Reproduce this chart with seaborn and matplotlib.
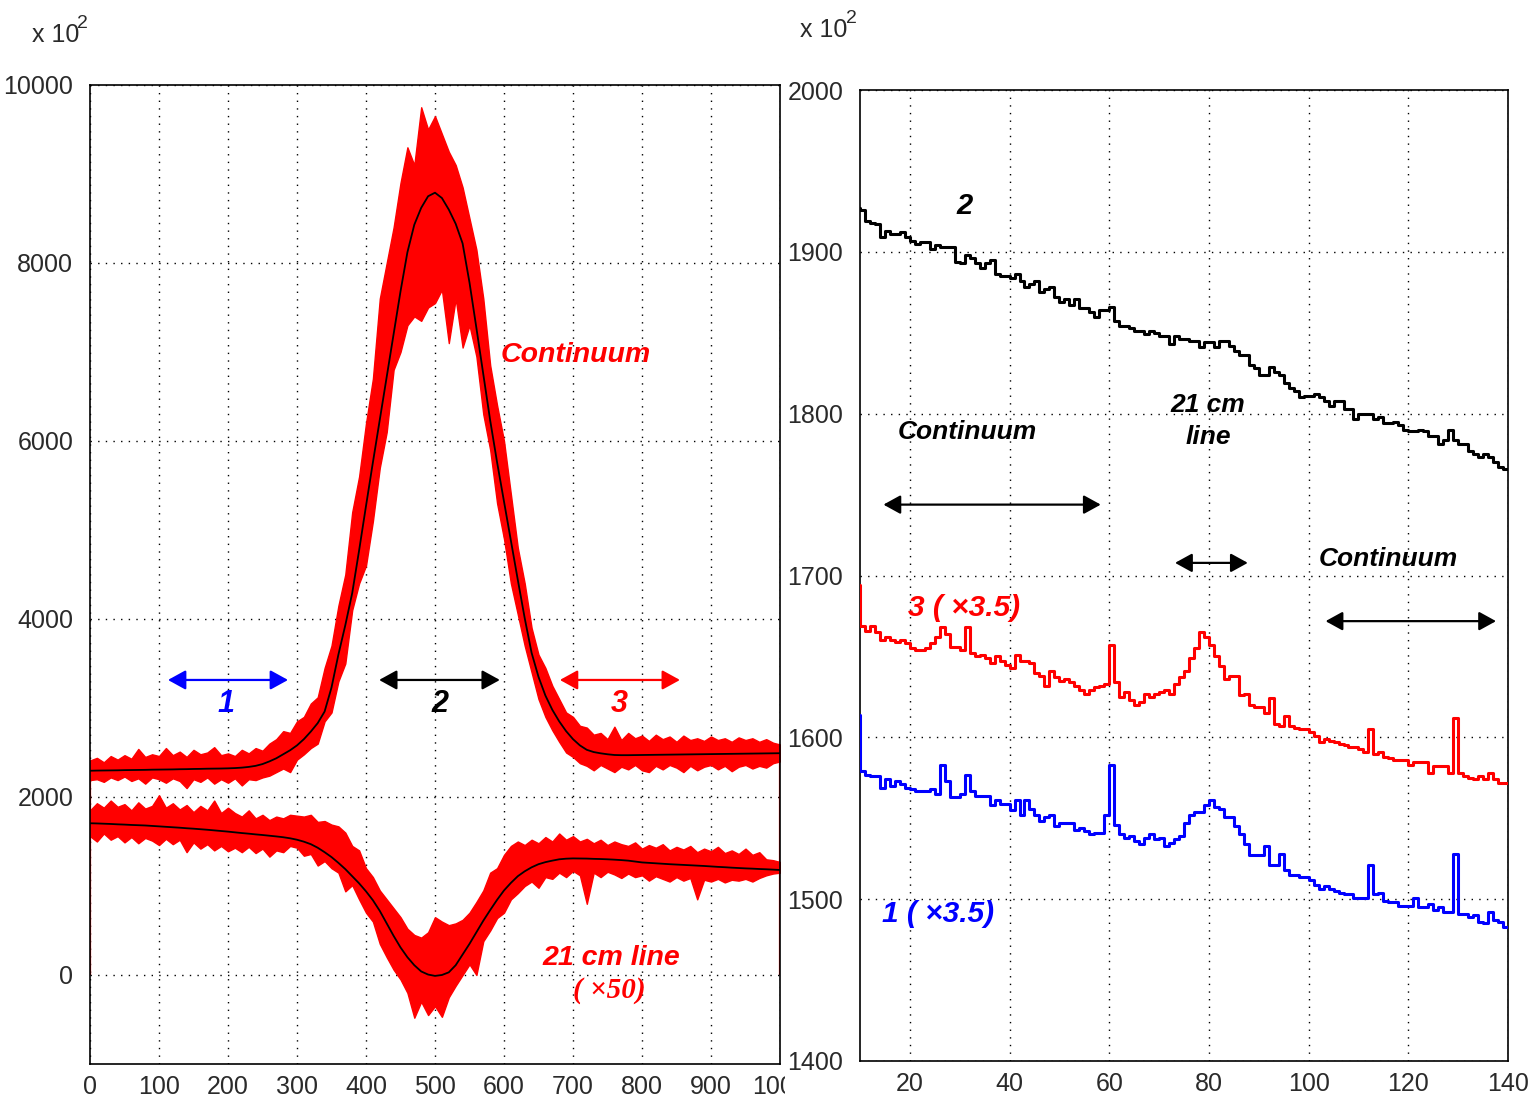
import numpy as np
import matplotlib
matplotlib.use("Agg")
import matplotlib.pyplot as plt
import seaborn as sns
from matplotlib.ticker import MultipleLocator
from matplotlib.transforms import Bbox, TransformedBbox

sns.set_theme(style="white")
plt.rcParams["font.family"] = ["Liberation Sans Narrow", "Liberation Sans", "DejaVu Sans"]

# ---------------- left panel : spectrum (channels) ----------------
channel = list(range(0, 1001, 10))

cont_hi = [2410, 2440, 2390, 2460, 2420, 2470, 2430, 2540, 2450, 2480,
           2460, 2550, 2470, 2510, 2450, 2530, 2480, 2500, 2560, 2470,
           2490, 2460, 2530, 2490, 2550, 2520, 2600, 2650, 2740, 2720,
           2850, 2900, 3050, 3120, 3450, 3700, 4150, 4500, 5200, 5600,
           6200, 6700, 7600, 8000, 8400, 8900, 9300, 9100, 9750, 9500,
           9650, 9450, 9250, 9100, 8850, 8500, 8150, 7600, 6850, 6400,
           6000, 5400, 4800, 4400, 3900, 3600, 3450, 3250, 3100, 2950,
           2900, 2800, 2780, 2700, 2720, 2650, 2790, 2640, 2720, 2660,
           2690, 2630, 2700, 2650, 2680, 2620, 2690, 2640, 2660, 2630,
           2680, 2640, 2660, 2620, 2670, 2640, 2660, 2620, 2650, 2610,
           2590]
cont_lo = [2190, 2200, 2170, 2220, 2190, 2230, 2180, 2210, 2150, 2220,
           2200, 2160, 2210, 2180, 2100, 2200, 2170, 2220, 2150, 2200,
           2160, 2210, 2130, 2200, 2190, 2220, 2240, 2280, 2320, 2280,
           2420, 2480, 2550, 2600, 2850, 2950, 3300, 3500, 4100, 4400,
           4600, 5100, 5700, 6100, 6800, 7000, 7300, 7400, 7350, 7500,
           7550, 7700, 7100, 7600, 7050, 7300, 6950, 6300, 5900, 5300,
           4900, 4400, 4050, 3700, 3400, 3100, 2900, 2750, 2620, 2500,
           2450, 2380, 2350, 2300, 2360, 2320, 2280, 2340, 2310, 2360,
           2300, 2280, 2350, 2310, 2360, 2330, 2280, 2350, 2300, 2340,
           2360, 2310, 2350, 2290, 2340, 2360, 2320, 2350, 2330, 2380,
           2400]
cont_fit = [2295, 2297, 2298, 2299, 2300, 2302, 2303, 2304, 2305, 2307,
            2308, 2309, 2310, 2312, 2313, 2315, 2316, 2318, 2319, 2320,
            2322, 2325, 2330, 2338, 2350, 2370, 2400, 2435, 2480, 2525,
            2580, 2650, 2735, 2830, 2960, 3230, 3600, 3930, 4290, 4770,
            5270, 5760, 6240, 6720, 7200, 7680, 8120, 8430, 8620, 8750,
            8790, 8730, 8600, 8440, 8220, 7780, 7270, 6750, 6230, 5760,
            5320, 4880, 4440, 4010, 3620, 3350, 3140, 2980, 2850, 2740,
            2650, 2580, 2530, 2505, 2491, 2480, 2472, 2470, 2470, 2471,
            2472, 2473, 2474, 2475, 2476, 2477, 2478, 2479, 2480, 2481,
            2482, 2483, 2484, 2485, 2486, 2487, 2488, 2489, 2490, 2491,
            2492]

line_hi = [1850, 1930, 1880, 1960, 1890, 1920, 1850, 1940, 1870, 1900,
           2020, 1880, 1930, 1860, 1910, 1830, 1900, 1850, 1960, 1820,
           1880, 1820, 1780, 1850, 1760, 1800, 1740, 1780, 1760, 1800,
           1790, 1780, 1800, 1720, 1730, 1690, 1670, 1600, 1450, 1400,
           1200, 1100, 950, 850, 750, 650, 520, 450, 420, 480,
           650, 600, 560, 580, 620, 700, 820, 950, 1150, 1200,
           1350, 1450, 1500, 1460, 1520, 1480, 1550, 1500, 1590, 1520,
           1560, 1500, 1530, 1480, 1520, 1460, 1500, 1470, 1450, 1490,
           1420, 1460, 1430, 1470, 1400, 1440, 1410, 1450, 1380, 1420,
           1390, 1440, 1370, 1400, 1360, 1420, 1350, 1380, 1300, 1290,
           1270]
line_lo = [1560, 1500, 1590, 1520, 1560, 1490, 1550, 1480, 1540, 1510,
           1460, 1530, 1470, 1520, 1380, 1490, 1420, 1470, 1400, 1450,
           1390, 1430, 1380, 1440, 1370, 1420, 1330, 1400, 1380, 1450,
           1430, 1340, 1360, 1230, 1280, 1200, 1150, 940, 1010, 850,
           700, 600, 350, 200, 60, -50, -200, -480, -300, -450,
           -350, -470, -250, -120, 0, 120, 0, 380, 500, 640,
           700, 850, 920, 1000, 1050, 980, 1100, 1080, 1150, 1100,
           1170, 1120, 800, 1150, 1100, 1160, 1130, 1090, 1140, 1100,
           1120, 1060, 1110, 1080, 1050, 1100, 1060, 1090, 850, 1070,
           1050, 1080, 1040, 1070, 1060, 1080, 1050, 1090, 1120, 1140,
           1150]
line_fit = [1705, 1703, 1700, 1697, 1693, 1690, 1686, 1683, 1680, 1675,
            1670, 1665, 1660, 1655, 1649, 1644, 1638, 1632, 1625, 1618,
            1611, 1603, 1595, 1588, 1580, 1573, 1565, 1557, 1548, 1536,
            1520, 1498, 1470, 1430, 1380, 1325, 1260, 1190, 1110, 1030,
            940, 840, 720, 580, 440, 310, 200, 110, 40, 5,
            -10, 0, 30, 110, 230, 350, 480, 610, 730, 845,
            950, 1035, 1110, 1165, 1210, 1245, 1268, 1285, 1300, 1307,
            1310, 1309, 1308, 1305, 1303, 1300, 1296, 1291, 1285, 1275,
            1265, 1260, 1255, 1250, 1245, 1241, 1237, 1233, 1229, 1225,
            1220, 1215, 1211, 1206, 1202, 1198, 1195, 1191, 1188, 1184,
            1180]

# ---------------- right panel : velocity histograms ----------------
vel_bins = list(range(9, 140))  # left bin edges, width 1
region2 = [1927,
           1926, 1919, 1918, 1917, 1909, 1913, 1911, 1911, 1912, 1909,
           1907, 1905, 1906, 1906, 1902, 1904, 1903, 1903, 1903, 1894,
           1893, 1898, 1896, 1893, 1890, 1893, 1895, 1886, 1885, 1885,
           1884, 1886, 1882, 1878, 1880, 1882, 1875, 1877, 1878, 1872,
           1869, 1871, 1867, 1871, 1865, 1865, 1863, 1860, 1864, 1864,
           1866, 1857, 1854, 1854, 1853, 1851, 1851, 1849, 1851, 1850,
           1848, 1848, 1843, 1848, 1846, 1846, 1845, 1845, 1841, 1844,
           1844, 1841, 1845, 1845, 1842, 1839, 1836, 1836, 1830, 1828,
           1824, 1824, 1829, 1826, 1824, 1819, 1816, 1814, 1810, 1811,
           1811, 1812, 1810, 1808, 1805, 1808, 1808, 1803, 1803, 1797,
           1800, 1800, 1800, 1797, 1798, 1794, 1794, 1795, 1793, 1790,
           1789, 1789, 1790, 1789, 1786, 1786, 1781, 1784, 1790, 1784,
           1781, 1781, 1777, 1775, 1773, 1775, 1773, 1770, 1767, 1766]
region3 = [1694,
           1669, 1666, 1669, 1665, 1660, 1662, 1660, 1659, 1660, 1658,
           1655, 1654, 1654, 1655, 1658, 1662, 1668, 1664, 1656, 1656,
           1654, 1668, 1652, 1650, 1651, 1649, 1646, 1650, 1647, 1645,
           1643, 1651, 1647, 1647, 1646, 1640, 1638, 1632, 1641, 1637,
           1635, 1636, 1634, 1632, 1629, 1627, 1629, 1631, 1632, 1633,
           1657, 1634, 1625, 1628, 1623, 1620, 1622, 1627, 1625, 1627,
           1628, 1629, 1627, 1633, 1637, 1641, 1649, 1655, 1665, 1662,
           1657, 1650, 1644, 1636, 1638, 1638, 1626, 1627, 1620, 1619,
           1619, 1615, 1624, 1608, 1607, 1613, 1607, 1606, 1605, 1605,
           1603, 1601, 1597, 1599, 1598, 1597, 1596, 1595, 1594, 1594,
           1593, 1591, 1605, 1590, 1591, 1588, 1587, 1586, 1586, 1586,
           1583, 1585, 1585, 1585, 1578, 1582, 1582, 1582, 1578, 1612,
           1578, 1576, 1575, 1574, 1576, 1574, 1578, 1574, 1572, 1572]
region1 = [1614,
           1579, 1577, 1576, 1576, 1569, 1574, 1570, 1573, 1571, 1569,
           1568, 1567, 1567, 1567, 1568, 1565, 1583, 1573, 1563, 1563,
           1565, 1577, 1567, 1564, 1564, 1564, 1558, 1561, 1559, 1559,
           1555, 1561, 1552, 1561, 1556, 1552, 1548, 1551, 1552, 1545,
           1547, 1547, 1547, 1543, 1544, 1542, 1540, 1541, 1541, 1552,
           1583, 1546, 1540, 1538, 1539, 1536, 1534, 1538, 1540, 1537,
           1538, 1533, 1535, 1537, 1539, 1547, 1552, 1554, 1554, 1558,
           1561, 1557, 1556, 1551, 1551, 1545, 1540, 1534, 1527, 1527,
           1527, 1533, 1521, 1521, 1528, 1518, 1515, 1515, 1514, 1514,
           1512, 1509, 1506, 1508, 1506, 1505, 1504, 1503, 1503, 1501,
           1501, 1501, 1521, 1503, 1504, 1499, 1498, 1498, 1496, 1496,
           1496, 1501, 1495, 1495, 1497, 1493, 1495, 1492, 1492, 1528,
           1491, 1491, 1489, 1490, 1486, 1485, 1492, 1487, 1486, 1483]

RED = "#ff0000"
BLUE = "#0000ff"
BLACK = "#000000"
TICKCOL = "#2a2a2a"
ANN = dict(family=["Liberation Sans", "DejaVu Sans"], weight="bold", style="italic")

W, H = 1534, 1101
fig = plt.figure(figsize=(W / 100, H / 100), dpi=100)
fig.patch.set_facecolor("white")
axL = fig.add_axes([90 / W, 37 / H, 690 / W, 979 / H])
axR = fig.add_axes([860 / W, 40 / H, 648 / W, 971 / H])

grid_kw = dict(color="black", linestyle=(0, (1, 4.5)), linewidth=1.0)

# ---------------- left panel drawing ----------------
axL.fill_between(channel, cont_lo, cont_hi, color=RED, edgecolor=RED, lw=1.0, zorder=2)
axL.fill_between(channel, line_lo, line_hi, color=RED, edgecolor=RED, lw=1.0, zorder=2)
axL.vlines([channel[0], channel[-1]], 0, [cont_lo[0], cont_hi[-1]], color=RED, lw=1.6, zorder=2)
sns.lineplot(x=channel, y=cont_fit, ax=axL, color=BLACK, lw=1.3, zorder=4,
             estimator=None, sort=False, legend=False)
sns.lineplot(x=channel, y=line_fit, ax=axL, color=BLACK, lw=1.3, zorder=4,
             estimator=None, sort=False, legend=False)

axL.set_xlim(0, 1000)
axL.set_ylim(-1000, 10000)
axL.xaxis.set_major_locator(MultipleLocator(100))
axL.xaxis.set_minor_locator(MultipleLocator(20))
axL.set_yticks([0, 2000, 4000, 6000, 8000, 10000])
axL.yaxis.set_minor_locator(MultipleLocator(500))

# arrows & labels (left)
arrow_style = "<|-|>,head_length=0.4,head_width=0.22"
for (x0, x1, c) in [(113, 287, BLUE), (419, 594, BLACK), (681, 855, RED)]:
    axL.annotate("", xy=(x1, 3315), xytext=(x0, 3315),
                 arrowprops=dict(arrowstyle=arrow_style, color=c, lw=1.6,
                                 mutation_scale=27, shrinkA=0, shrinkB=0), zorder=5)
for (xt, s, c) in [(197, "1", BLUE), (507, "2", BLACK), (767, "3", RED)]:
    axL.text(xt, 2960, s, color=c, fontsize=22, ha="center", va="baseline", **ANN)
axL.text(704, 6888, "Continuum", color=RED, fontsize=20.5, ha="center", va="baseline", **ANN)
axL.text(755, 112, "21 cm line", color=RED, fontsize=20.5, ha="center", va="baseline", **ANN)
axL.text(752, -258, "( \u00d750)", color=RED, fontsize=21, ha="center", va="baseline",
         family=["Liberation Serif", "DejaVu Serif"], style="italic", weight="bold")

# ---------------- right panel drawing ----------------
for vals, col in [(region2, BLACK), (region3, RED), (region1, BLUE)]:
    xs = vel_bins + [vel_bins[-1] + 1]
    ys = vals + [vals[-1]]
    sns.lineplot(x=xs, y=ys, ax=axR, color=col, lw=2.2, drawstyle="steps-post",
                 estimator=None, sort=False, legend=False, zorder=3)

axR.set_xlim(10, 140)
axR.set_ylim(1400, 2000)
axR.set_xticks([20, 40, 60, 80, 100, 120, 140])
axR.xaxis.set_minor_locator(MultipleLocator(5))
axR.yaxis.set_major_locator(MultipleLocator(100))
axR.yaxis.set_minor_locator(MultipleLocator(20))

for (x0, x1, y) in [(14.7, 58.3, 1743.8), (73.2, 87.8, 1707.8), (103.4, 137.6, 1671.8)]:
    axR.annotate("", xy=(x1, y), xytext=(x0, y),
                 arrowprops=dict(arrowstyle=arrow_style, color=BLACK, lw=1.6,
                                 mutation_scale=26, shrinkA=0, shrinkB=0), zorder=5)
axR.text(31, 1923.5, "2", color=BLACK, fontsize=21, ha="center", va="baseline", **ANN)
axR.text(31.5, 1784.5, "Continuum", color=BLACK, fontsize=19, ha="center", va="baseline", **ANN)
axR.text(79.8, 1800.8, "21 cm", color=BLACK, fontsize=19, ha="center", va="baseline", **ANN)
axR.text(79.8, 1781, "line", color=BLACK, fontsize=19, ha="center", va="baseline", **ANN)
axR.text(116, 1706, "Continuum", color=BLACK, fontsize=19, ha="center", va="baseline", **ANN)
axR.text(19.6, 1675, "3 ( \u00d73.5)", color=RED, fontsize=21.5, ha="left", va="baseline", **ANN)
axR.text(14.4, 1485.6, "1 ( \u00d73.5)", color=BLUE, fontsize=21.5, ha="left", va="baseline", **ANN)

# ---------------- common axis styling ----------------
for ax in (axL, axR):
    ax.set_facecolor("white")
    ax.set_axisbelow(True)
    ax.grid(True, which="major", **grid_kw)
    ax.grid(False, which="minor")
    for sp in ax.spines.values():
        sp.set_visible(True)
        sp.set_color("black")
        sp.set_linewidth(1.2)
    ax.tick_params(which="both", direction="in", top=False, right=False,
                   color="black", labelcolor=TICKCOL, labelsize=18)
    ax.tick_params(axis="x", which="major", length=14, width=1.0, pad=8)
    ax.tick_params(axis="x", which="minor", length=7, width=1.0)
    ax.tick_params(axis="y", which="major", length=11, width=1.2, pad=12)
    ax.tick_params(axis="y", which="minor", length=5.5, width=1.2)
    ax.set_xlabel("")
    ax.set_ylabel("")

# exponent labels
for (xa, xb, yb) in [(32, 77, 42), (800, 846, 37)]:
    fig.text(xa / W, 1 - yb / H, "x 10", fontsize=18, color=TICKCOL, ha="left", va="baseline")
    fig.text(xb / W, 1 - (yb - 14) / H, "2", fontsize=14, color=TICKCOL, ha="left", va="baseline")

# the last channel label is cut by the right pad, as in the original
fig.canvas.draw()
clip = TransformedBbox(Bbox([[0, 0], [785 / W, 1]]), fig.transFigure)
for lab in axL.get_xticklabels():
    lab.set_clip_on(True)
    lab.set_clip_box(clip)

fig.savefig("out.png", dpi=100, facecolor="white")
